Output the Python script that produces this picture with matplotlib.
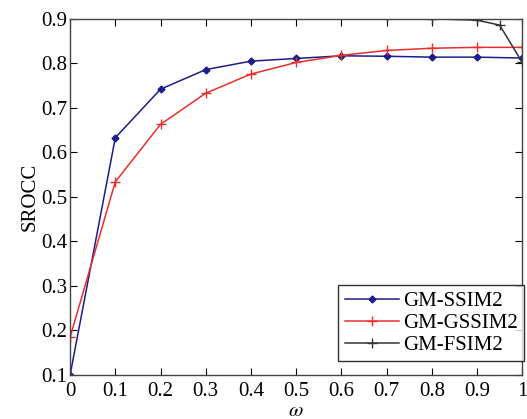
import numpy as np
import matplotlib
matplotlib.use("Agg")
import matplotlib.pyplot as plt

plt.rcParams["font.family"] = ["Liberation Serif", "DejaVu Serif"]
plt.rcParams["mathtext.fontset"] = "stix"

omega = [0, 0.1, 0.2, 0.3, 0.4, 0.5, 0.6, 0.7, 0.8, 0.9, 1.0]
ssim2 = [0.100, 0.633, 0.742, 0.786, 0.805, 0.811, 0.817, 0.816, 0.814, 0.814, 0.812]
gssim2 = [0.185, 0.534, 0.663, 0.733, 0.776, 0.802, 0.818, 0.829, 0.834, 0.836, 0.836]
omega_f = [0.7, 0.8, 0.9, 0.95, 1.0]
fsim2 = [0.905, 0.900, 0.897, 0.886, 0.802]

fig = plt.figure(figsize=(5.27, 4.19), dpi=100)
ax = fig.add_axes([0.133, 0.105, 0.858, 0.850])

ax.plot(omega, ssim2, "-D", color="#1c1c8c", lw=1.1, ms=3.5, label="GM-SSIM2")
ax.plot(omega, gssim2, "-+", color="#e8302a", lw=1.1, ms=7, mew=1.0, label="GM-GSSIM2")
ax.plot(omega_f, fsim2, "-+", color="#333333", lw=1.1, ms=7, mew=1.0, label="GM-FSIM2")

ax.set_xlim(0, 1)
ax.set_ylim(0.1, 0.9)
ax.set_xticks(np.arange(0, 1.01, 0.1))
ax.set_xticklabels(["0", "0.1", "0.2", "0.3", "0.4", "0.5", "0.6", "0.7", "0.8", "0.9", "1"])
ax.set_yticks(np.arange(0.1, 0.91, 0.1))
ax.set_yticklabels([f"{v:.1f}" for v in np.arange(0.1, 0.91, 0.1)])
ax.tick_params(direction="in", top=True, right=True, labelsize=15, length=5)
ax.tick_params(axis="x", pad=5)
ax.tick_params(axis="y", pad=2)
for s in ax.spines.values():
    s.set_color("#444444")
    s.set_linewidth(1.0)

ax.set_ylabel("SROCC", fontsize=15, labelpad=1)
ax.set_xlabel(r"$\omega$", fontsize=15, labelpad=1)

leg = ax.legend(loc="lower right", bbox_to_anchor=(1.004, 0.038), fontsize=15,
                frameon=True, fancybox=False, edgecolor="black",
                handlelength=2.6, handletextpad=0.2, borderpad=0.3,
                labelspacing=0.12, borderaxespad=0)
leg.get_frame().set_linewidth(1.0)

fig.savefig("out.png", dpi=100)
